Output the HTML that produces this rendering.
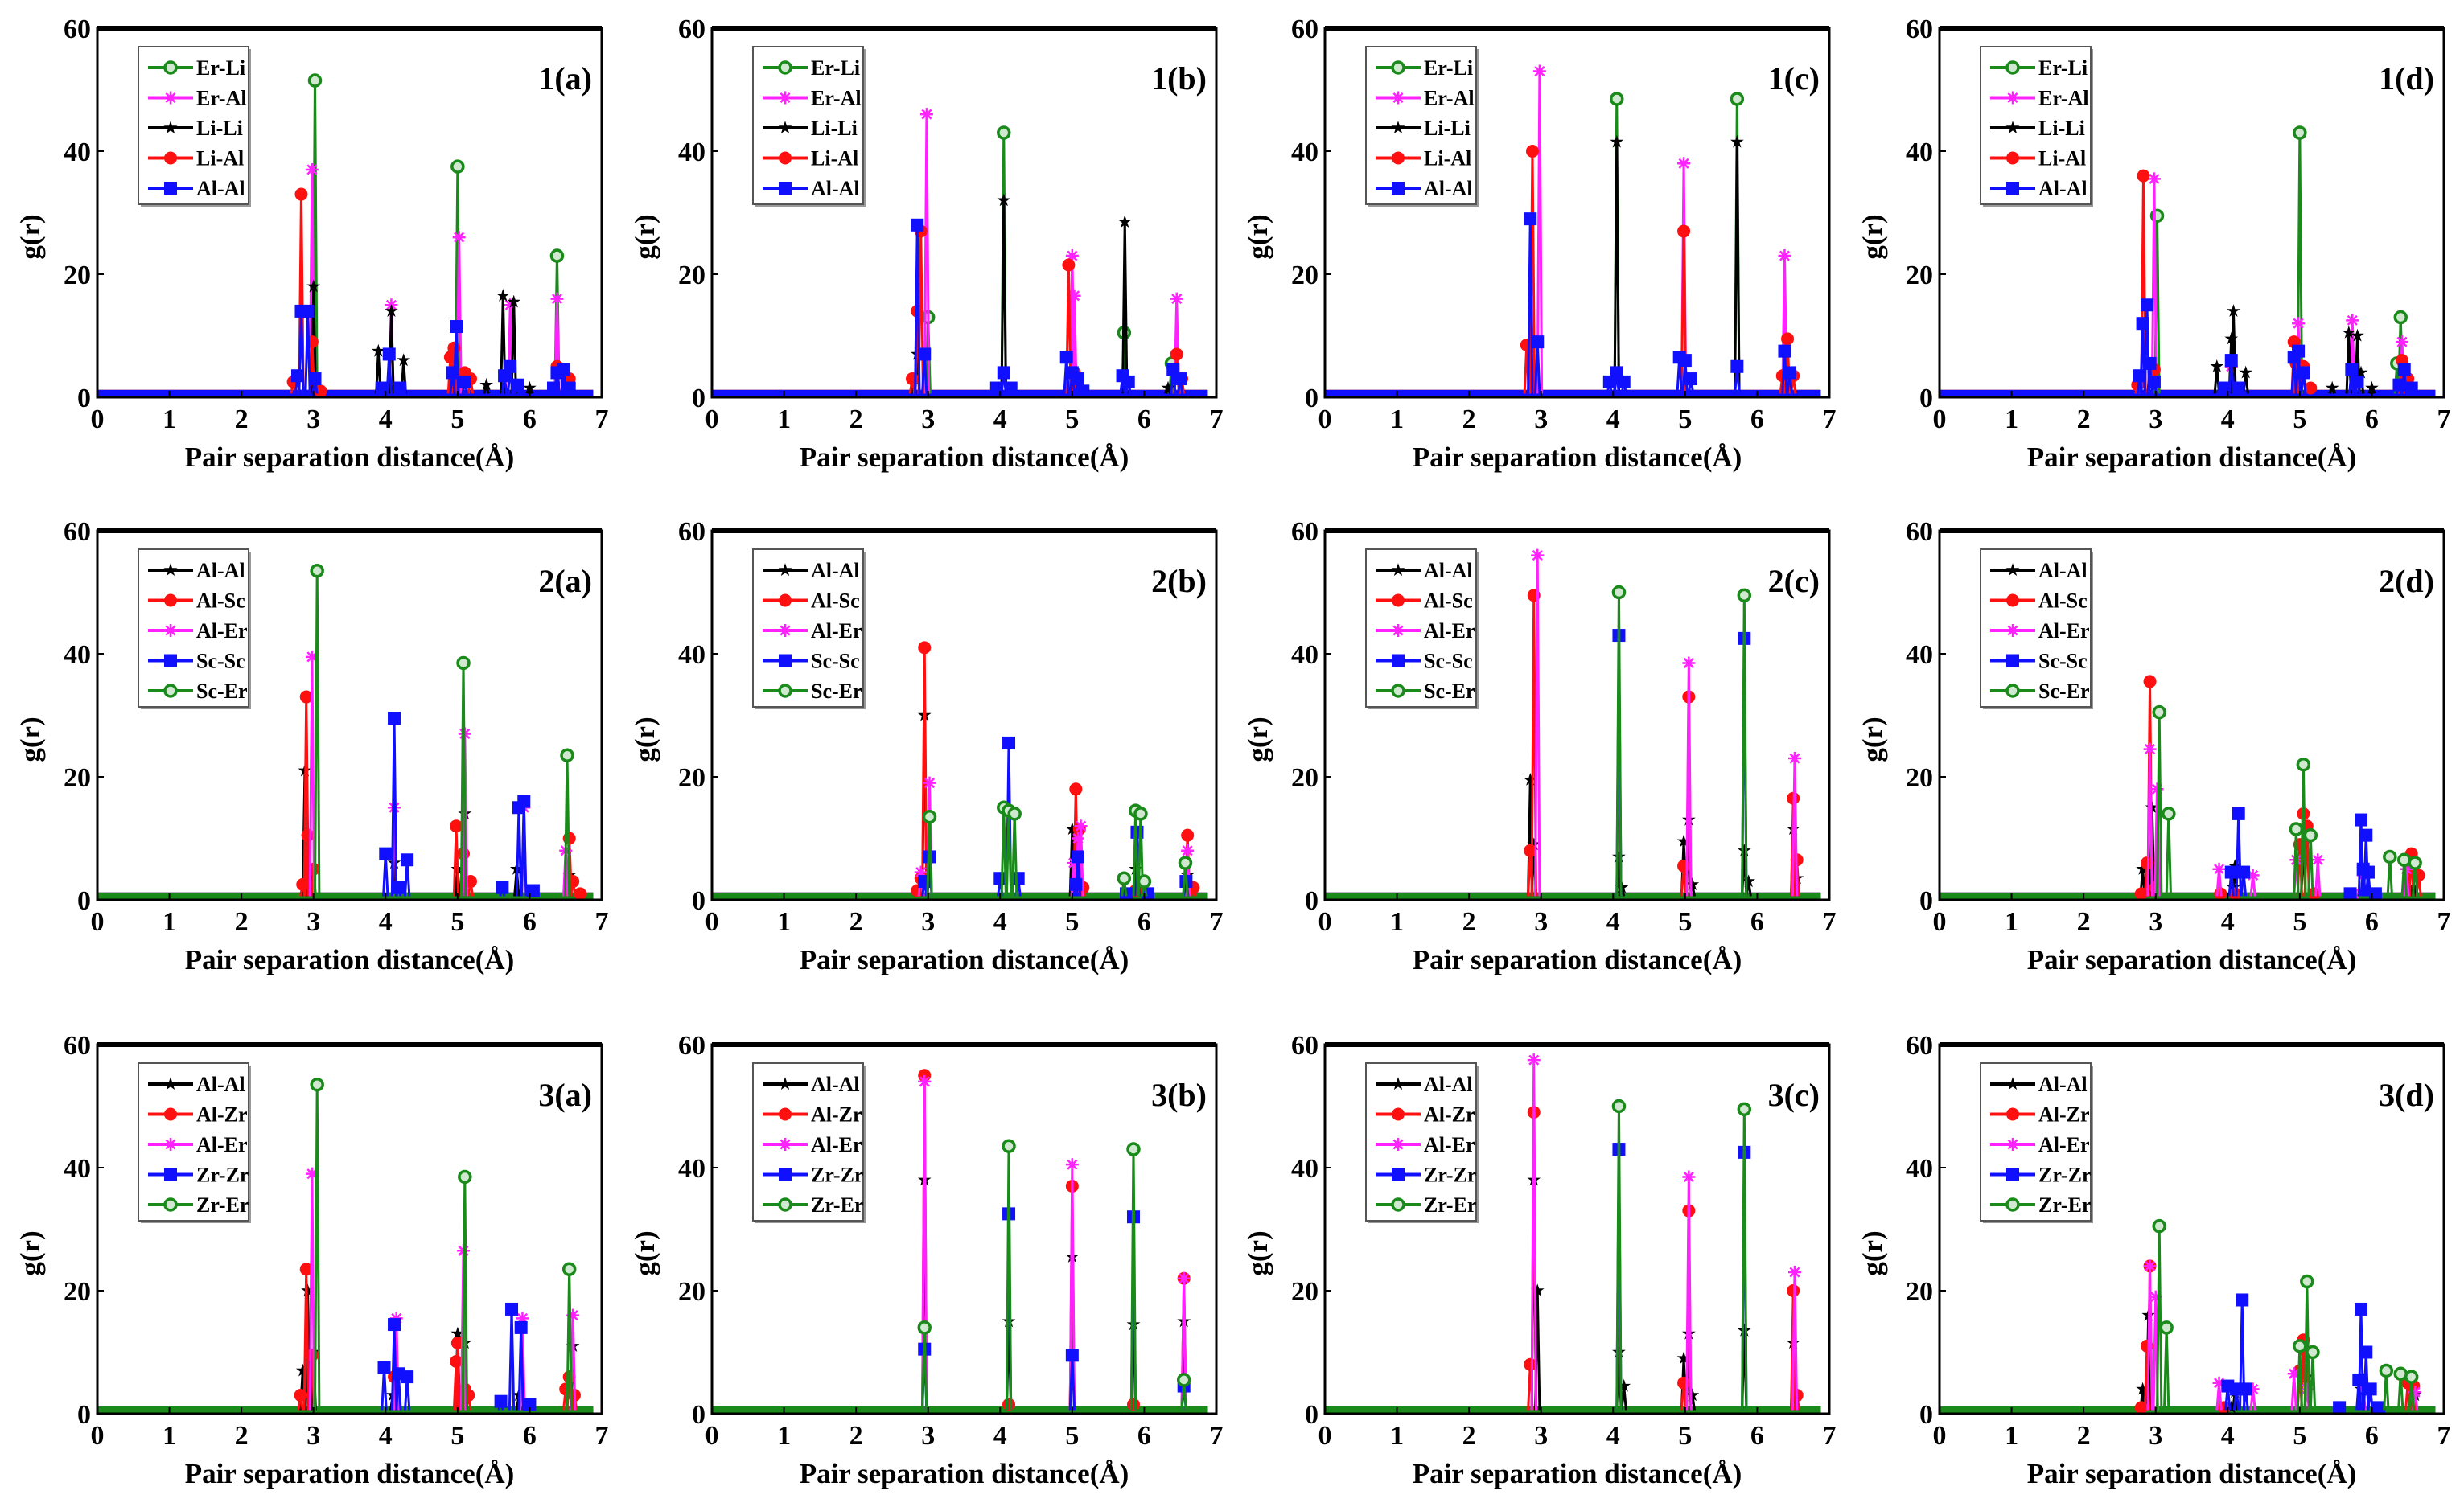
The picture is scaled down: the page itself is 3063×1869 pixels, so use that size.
<!DOCTYPE html>
<html><head><meta charset="utf-8">
<style>
html,body{margin:0;padding:0;background:#fff;}
svg{display:block;}
text{font-family:"Liberation Serif",serif;font-weight:bold;fill:#000;}
</style></head>
<body>
<svg id="chart" width="3063" height="1869" viewBox="0 0 3063 1869" xmlns="http://www.w3.org/2000/svg"></svg>
<script>
// ---- data: peak [r, g(r)] pairs per series per panel ----
const xTicks = [0,1,2,3,4,5,6,7];
const yTicks = [0,20,40,60];
const names1 = ["Er-Li","Er-Al","Li-Li","Li-Al","Al-Al"];
const names2 = ["Al-Al","Al-Sc","Al-Er","Sc-Sc","Sc-Er"];
const names3 = ["Al-Al","Al-Zr","Al-Er","Zr-Zr","Zr-Er"];
const panelLabels = ["1(a)","1(b)","1(c)","1(d)","2(a)","2(b)","2(c)","2(d)","3(a)","3(b)","3(c)","3(d)"];

const p1a_s1 = [[3.02,51.5],[5.0,37.5],[6.38,23]];
const p1a_s2 = [[2.98,37],[4.08,15],[5.02,26],[5.73,15],[6.38,16]];
const p1a_s3 = [[3.0,18],[3.9,7.5],[4.08,14],[4.25,6],[5.4,2],[5.63,16.5],[5.78,15.5],[6.0,1.5]];
const p1a_s4 = [[2.72,2.5],[2.83,33],[2.98,9],[3.1,1],[4.9,6.5],[4.95,8],[5.1,4],[5.18,3],[6.38,5],[6.55,3]];
const p1a_s5 = [[2.78,3.5],[2.83,14],[2.92,14],[3.02,3],[3.95,1.5],[4.05,7],[4.2,1.5],[4.93,4],[4.98,11.5],[5.1,2.5],[5.65,3.5],[5.73,5],[5.83,2],[6.33,1.5],[6.38,4],[6.47,4.5],[6.55,1.5]];

const p1b_s1 = [[3.0,13],[4.05,43],[5.72,10.5],[6.38,5.5]];
const p1b_s2 = [[2.98,46],[5.0,23],[5.03,16.5],[6.45,16]];
const p1b_s3 = [[2.8,3],[2.85,7],[4.05,32],[5.73,28.5],[6.33,1.5]];
const p1b_s4 = [[2.78,3],[2.85,14],[2.9,27],[4.95,21.5],[5.03,4],[6.45,7],[6.52,3]];
const p1b_s5 = [[2.85,28],[2.95,7],[3.95,1.5],[4.05,4],[4.15,1.5],[4.92,6.5],[5.0,4],[5.08,3],[5.15,1],[5.7,3.5],[5.78,2.5],[6.4,4.5],[6.5,3]];

const p1c_s1 = [[4.05,48.5],[5.72,48.5]];
const p1c_s2 = [[2.98,53],[4.98,38],[6.38,23]];
const p1c_s3 = [[4.05,41.5],[5.72,41.5]];
const p1c_s4 = [[2.8,8.5],[2.88,40],[4.98,27],[6.35,3.5],[6.42,9.5],[6.5,3.5]];
const p1c_s5 = [[2.85,29],[2.95,9],[3.95,2.5],[4.05,4],[4.15,2.5],[4.92,6.5],[5.0,6],[5.08,3],[5.72,5],[6.38,7.5],[6.45,4]];

const p1d_s1 = [[3.02,29.5],[5.0,43],[6.35,5.5],[6.4,13]];
const p1d_s2 = [[2.98,35.5],[4.05,5],[4.98,12],[5.73,12.5],[6.42,9]];
const p1d_s3 = [[3.85,5],[4.05,9.5],[4.08,14],[4.25,4],[5.45,1.5],[5.68,10.5],[5.8,10],[5.85,4],[6.0,1.5]];
const p1d_s4 = [[2.75,2],[2.83,36],[2.98,4.5],[4.92,9],[4.95,5.5],[5.05,5],[5.15,1.5],[6.42,6],[6.5,3]];
const p1d_s5 = [[2.78,3.5],[2.82,12],[2.88,15],[2.92,5.5],[2.98,2.5],[3.95,1.5],[4.05,6],[4.15,1.5],[4.92,6.5],[4.98,7.5],[5.05,4],[5.72,4.5],[5.8,2.5],[6.38,2],[6.45,4.5],[6.55,1.5]];

const p2a_s1 = [[2.88,21],[2.95,5],[4.12,6],[5.0,5],[5.1,14],[5.82,5],[6.55,4]];
const p2a_s2 = [[2.85,2.5],[2.9,33],[2.92,10.5],[3.0,5],[4.98,12],[5.08,7.5],[5.18,3],[6.55,10],[6.6,3],[6.7,1]];
const p2a_s3 = [[2.98,39.5],[4.12,15],[5.1,27],[5.92,15],[6.5,8]];
const p2a_s4 = [[4.0,7.5],[4.12,29.5],[4.18,2],[4.3,6.5],[5.62,2],[5.85,15],[5.92,16],[6.05,1.5]];
const p2a_s5 = [[3.05,53.5],[5.08,38.5],[6.52,23.5]];

const p2b_s1 = [[2.95,30],[5.0,11.5],[5.88,5],[6.6,4]];
const p2b_s2 = [[2.85,1.5],[2.9,3.5],[2.95,41],[3.02,7],[5.05,18],[5.1,11.5],[5.15,2],[5.88,1.5],[6.6,10.5],[6.68,2]];
const p2b_s3 = [[2.9,4.5],[3.02,19],[5.02,6],[5.08,10],[5.12,12],[6.6,8]];
const p2b_s4 = [[2.95,3],[3.02,7],[4.0,3.5],[4.12,25.5],[4.25,3.5],[5.05,2.5],[5.08,7],[5.75,1],[5.9,11],[6.05,1],[6.58,3]];
const p2b_s5 = [[3.02,13.5],[4.05,15],[4.12,14.5],[4.2,14],[5.72,3.5],[5.88,14.5],[5.95,14],[6.0,3],[6.57,6]];

const p2c_s1 = [[2.85,19.5],[2.9,9],[4.08,7],[4.12,2],[4.98,9.5],[5.05,13],[5.1,2.5],[5.82,8],[5.88,3],[6.5,11.5],[6.55,3.5]];
const p2c_s2 = [[2.85,8],[2.9,49.5],[4.98,5.5],[5.05,33],[6.5,16.5],[6.55,6.5]];
const p2c_s3 = [[2.95,56],[5.05,38.5],[6.52,23]];
const p2c_s4 = [[4.08,43],[5.82,42.5]];
const p2c_s5 = [[4.08,50],[5.82,49.5]];

const p2d_s1 = [[2.82,5],[2.95,15],[4.08,2],[4.1,5.5],[5.05,9],[5.88,5],[6.58,2]];
const p2d_s2 = [[2.8,1],[2.88,6],[2.92,35.5],[3.0,2],[3.9,1],[4.1,1],[5.0,9],[5.05,14],[5.1,12],[5.2,1],[6.5,6.5],[6.55,7.5],[6.65,4]];
const p2d_s3 = [[2.92,24.5],[3.02,18],[3.88,5],[4.35,4],[4.95,6.5],[5.25,6.5],[5.75,1],[5.88,4],[6.48,5]];
const p2d_s4 = [[4.05,4.5],[4.15,14],[4.22,4.5],[5.7,1],[5.85,13],[5.88,5],[5.92,10.5],[5.95,4.5],[6.05,1]];
const p2d_s5 = [[3.05,30.5],[3.18,14],[4.95,11.5],[5.05,22],[5.15,10.5],[6.25,7],[6.45,6.5],[6.6,6]];

const p3a_s1 = [[2.85,7],[2.92,20],[3.0,10],[4.1,3],[5.0,13],[5.1,11.5],[5.85,3],[6.6,11]];
const p3a_s2 = [[2.82,3],[2.9,23.5],[2.98,9.5],[4.12,6],[4.98,8.5],[5.0,11.5],[5.1,4],[5.15,3],[6.5,4],[6.55,6],[6.62,3]];
const p3a_s3 = [[2.98,39],[4.15,15.5],[5.08,26.5],[5.9,15.5],[6.6,16]];
const p3a_s4 = [[3.98,7.5],[4.12,14.5],[4.18,6.5],[4.3,6],[5.6,2],[5.75,17],[5.88,14],[6.0,1.5]];
const p3a_s5 = [[3.05,53.5],[5.1,38.5],[6.55,23.5]];

const p3b_s1 = [[2.95,38],[4.12,15],[5.0,25.5],[5.85,14.5],[6.55,15]];
const p3b_s2 = [[2.95,55],[4.12,1.5],[5.0,37],[5.85,1.5],[6.55,22]];
const p3b_s3 = [[2.95,54],[5.0,40.5],[6.55,22]];
const p3b_s4 = [[2.95,10.5],[4.12,32.5],[5.0,9.5],[5.85,32],[6.55,4.5]];
const p3b_s5 = [[2.95,14],[4.12,43.5],[5.85,43],[6.55,5.5]];

const p3c_s1 = [[2.9,38],[2.95,20],[4.08,10],[4.15,4.5],[4.98,9],[5.05,13],[5.1,3],[5.82,13.5],[6.5,11.5],[6.55,3]];
const p3c_s2 = [[2.85,8],[2.9,49],[4.98,5],[5.05,33],[6.5,20],[6.55,3]];
const p3c_s3 = [[2.9,57.5],[5.05,38.5],[6.52,23]];
const p3c_s4 = [[4.08,43],[5.82,42.5]];
const p3c_s5 = [[4.08,50],[5.82,49.5]];

const p3d_s1 = [[2.82,4],[2.9,16],[4.05,1],[4.1,3.5],[5.1,6],[5.85,4],[6.6,3]];
const p3d_s2 = [[2.8,1],[2.88,11],[2.92,24],[3.95,1],[5.0,7],[5.05,12],[5.1,10],[6.5,5],[6.58,4.5]];
const p3d_s3 = [[2.92,24],[3.0,19],[3.88,5],[4.35,4],[4.92,6.5],[5.1,4],[5.88,4],[6.6,3.5]];
const p3d_s4 = [[4.0,4.5],[4.12,4],[4.2,18.5],[4.25,4],[5.55,1],[5.82,5.5],[5.85,17],[5.92,10],[5.98,4],[6.1,1]];
const p3d_s5 = [[3.05,30.5],[3.15,14],[5.0,11],[5.1,21.5],[5.18,10],[6.2,7],[6.4,6.5],[6.55,6]];

const panelSeries = [
 [p1a_s1,p1a_s2,p1a_s3,p1a_s4,p1a_s5],[p1b_s1,p1b_s2,p1b_s3,p1b_s4,p1b_s5],
 [p1c_s1,p1c_s2,p1c_s3,p1c_s4,p1c_s5],[p1d_s1,p1d_s2,p1d_s3,p1d_s4,p1d_s5],
 [p2a_s1,p2a_s2,p2a_s3,p2a_s4,p2a_s5],[p2b_s1,p2b_s2,p2b_s3,p2b_s4,p2b_s5],
 [p2c_s1,p2c_s2,p2c_s3,p2c_s4,p2c_s5],[p2d_s1,p2d_s2,p2d_s3,p2d_s4,p2d_s5],
 [p3a_s1,p3a_s2,p3a_s3,p3a_s4,p3a_s5],[p3b_s1,p3b_s2,p3b_s3,p3b_s4,p3b_s5],
 [p3c_s1,p3c_s2,p3c_s3,p3c_s4,p3c_s5],[p3d_s1,p3d_s2,p3d_s3,p3d_s4,p3d_s5]
];

// ---- styles ----
const style1 = [["#1a8a1a","ocircle"],["#ff22ff","asterisk"],["#000","star"],["#ff1010","circle"],["#1010ff","square"]];
const style23 = [["#000","star"],["#ff1010","circle"],["#ff22ff","asterisk"],["#1010ff","square"],["#1a8a1a","ocircle"]];

const svg = document.getElementById('chart');
const NS = "http://www.w3.org/2000/svg";
function mk(tag, attrs, parent){
  const e = document.createElementNS(NS, tag);
  for (const k in attrs) e.setAttribute(k, attrs[k]);
  (parent||svg).appendChild(e);
  return e;
}
const colX = [121, 885, 1647, 2411];
const rowY = [35, 660, 1299];
const PW = 627, PH = 459;
const baseVal = 0.6;

function marker(g, type, color, cx, cy, r){
  let m;
  if (type==="circle") m = mk('circle',{cx:cx,cy:cy,r:r,fill:color},g);
  else if (type==="ocircle") m = mk('circle',{cx:cx,cy:cy,r:r-1,fill:"#cfe8cf",stroke:color,'stroke-width':3.5},g);
  else if (type==="square") m = mk('rect',{x:cx-r,y:cy-r,width:2*r,height:2*r,fill:color},g);
  else if (type==="star"){
    let pts=[];
    for(let i=0;i<10;i++){const a=-Math.PI/2+i*Math.PI/5;const rr=i%2?r*0.42:r*1.1;pts.push((cx+rr*Math.cos(a)).toFixed(1)+","+(cy+rr*Math.sin(a)).toFixed(1));}
    m = mk('polygon',{points:pts.join(" "),fill:color},g);
  } else {
    let d="";
    for(let i=0;i<4;i++){const a=i*Math.PI/4;d+=`M${cx-r*Math.cos(a)},${cy-r*Math.sin(a)}L${cx+r*Math.cos(a)},${cy+r*Math.sin(a)}`;}
    m = mk('path',{d:d,stroke:color,'stroke-width':2.5,fill:"none"},g);
  }
  
  
  return m;
}

panelSeries.forEach((series, pi) => {
  const row = Math.floor(pi/4), col = pi%4;
  const x0 = colX[col], y0 = rowY[row];
  const names = row===0?names1:(row===1?names2:names3);
  const styles = row===0?style1:style23;
  const sx = v => x0 + v/7*PW;
  const sy = v => y0 + PH - v/60*PH;
  const g = mk('g',{});
  
  

  // baselines
  styles.forEach((st, si) => {
    const bl = mk('line',{x1:sx(0),y1:sy(baseVal),x2:sx(6.88),y2:sy(baseVal),stroke:st[0],'stroke-width':9},g);
    
    
  });
  // series
  series.forEach((pts, si) => {
    const [color, type] = styles[si];
    const sg = mk('g',{},g);
    
    
    pts.forEach(p => {
      const pk = mk('path',{d:`M${sx(p[0]-0.03)},${sy(baseVal)}L${sx(p[0])},${sy(p[1])}L${sx(p[0]+0.03)},${sy(baseVal)}`,stroke:color,'stroke-width':3,fill:"none"},sg);
      
      
    });
    pts.forEach(p => { marker(sg, type, color, sx(p[0]), sy(p[1]), 8); });
  });

  // frame
  const fr = mk('rect',{x:x0,y:y0,width:PW,height:PH,fill:"none",stroke:"#000",'stroke-width':3},g);
  
  
  const tl = mk('line',{x1:x0,y1:y0,x2:x0+PW,y2:y0,stroke:"#000",'stroke-width':6},g);
  
  

  // ticks
  xTicks.forEach(t => {
    const tk = mk('line',{x1:sx(t),y1:y0+PH,x2:sx(t),y2:y0+PH-8,stroke:"#000",'stroke-width':2},g);
    
    
    const tx = mk('text',{x:sx(t),y:y0+PH+38,'font-size':34,'text-anchor':'middle'},g);
    tx.textContent = t;
    
    
  });
  yTicks.forEach(t => {
    const tk = mk('line',{x1:x0,y1:sy(t),x2:x0+8,y2:sy(t),stroke:"#000",'stroke-width':2},g);
    
    
    const ty = mk('text',{x:x0-8,y:sy(t)+12,'font-size':34,'text-anchor':'end'},g);
    ty.textContent = t;
    
    
  });
  const xt = mk('text',{x:x0+PW/2,y:y0+PH+86,'font-size':35,'text-anchor':'middle'},g);
  xt.textContent = "Pair separation distance(Å)";
  
  
  const yt = mk('text',{x:0,y:0,'font-size':35,'text-anchor':'middle',transform:`translate(${x0-72},${y0+PH/2+30}) rotate(-90)`},g);
  yt.textContent = "g(r)";
  
  

  // panel label
  const pl = mk('text',{x:x0+PW-12,y:y0+76,'font-size':40,'text-anchor':'end'},g);
  pl.textContent = panelLabels[pi];
  
  

  // legend
  const lg = mk('g',{},g);
  
  
  const lx = x0+51, ly = y0+23;
  const sh = mk('rect',{x:lx+3,y:ly+3,width:137,height:196,fill:"#999"},lg);
  
  
  const lb = mk('rect',{x:lx,y:ly,width:137,height:196,fill:"#fff",stroke:"#555",'stroke-width':2},lg);
  
  
  names.forEach((n, si) => {
    const [color, type] = styles[si];
    const yy = ly + 26 + si*37.5;
    const ll = mk('line',{x1:lx+12,y1:yy,x2:lx+68,y2:yy,stroke:color,'stroke-width':4},lg);
    
    
    marker(lg, type, color, lx+40, yy, 8);
    const lt = mk('text',{x:lx+72,y:yy+9,'font-size':26},lg);
    lt.textContent = n;
    
    
  });
});
</script>
</body></html>
